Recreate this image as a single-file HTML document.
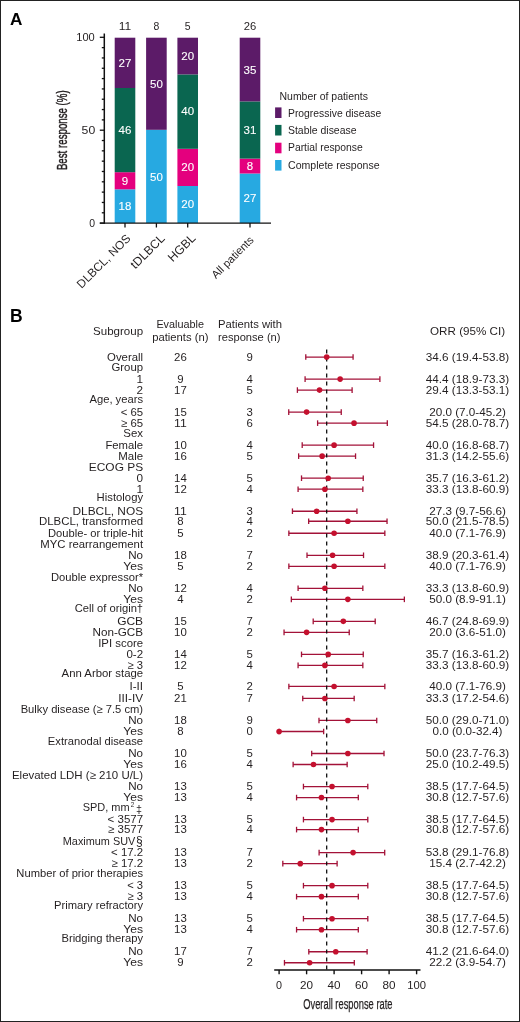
<!DOCTYPE html>
<html><head><meta charset="utf-8"><style>
html,body{margin:0;padding:0;background:#fff;}
body{width:520px;height:1022px;overflow:hidden;}
svg{display:block;font-family:"Liberation Sans", sans-serif;will-change:transform;}
</style></head><body>
<svg width="520" height="1022" viewBox="0 0 520 1022">
<rect x="0" y="0" width="520" height="1022" fill="#fff"/>
<text x="10.00" y="24.80" font-size="17.2" text-anchor="start" fill="#000" font-weight="bold" textLength="12.44" lengthAdjust="spacingAndGlyphs">A</text>
<rect x="114.70" y="189.30" width="20.6" height="33.70" fill="#27a9e1"/>
<rect x="114.70" y="172.20" width="20.6" height="17.10" fill="#e4007e"/>
<rect x="114.70" y="88.00" width="20.6" height="84.20" fill="#0a6650"/>
<rect x="114.70" y="37.70" width="20.6" height="50.30" fill="#5c1b68"/>
<rect x="146.10" y="129.80" width="20.6" height="93.20" fill="#27a9e1"/>
<rect x="146.10" y="37.70" width="20.6" height="92.10" fill="#5c1b68"/>
<rect x="177.40" y="186.00" width="20.6" height="37.00" fill="#27a9e1"/>
<rect x="177.40" y="148.80" width="20.6" height="37.20" fill="#e4007e"/>
<rect x="177.40" y="74.40" width="20.6" height="74.40" fill="#0a6650"/>
<rect x="177.40" y="37.70" width="20.6" height="36.70" fill="#5c1b68"/>
<rect x="239.70" y="173.50" width="20.6" height="49.50" fill="#27a9e1"/>
<rect x="239.70" y="158.60" width="20.6" height="14.90" fill="#e4007e"/>
<rect x="239.70" y="101.40" width="20.6" height="57.20" fill="#0a6650"/>
<rect x="239.70" y="37.70" width="20.6" height="63.70" fill="#5c1b68"/>
<line x1="104.3" y1="33.5" x2="104.3" y2="223.8" stroke="#111" stroke-width="1.5"/>
<line x1="99.8" y1="223.1" x2="271" y2="223.1" stroke="#111" stroke-width="1.4"/>
<line x1="99.8" y1="37.30" x2="104.3" y2="37.30" stroke="#111" stroke-width="1.3"/>
<line x1="101.8" y1="47.62" x2="104.3" y2="47.62" stroke="#111" stroke-width="1.3"/>
<line x1="101.8" y1="57.94" x2="104.3" y2="57.94" stroke="#111" stroke-width="1.3"/>
<line x1="101.8" y1="68.27" x2="104.3" y2="68.27" stroke="#111" stroke-width="1.3"/>
<line x1="101.8" y1="78.59" x2="104.3" y2="78.59" stroke="#111" stroke-width="1.3"/>
<line x1="101.8" y1="88.91" x2="104.3" y2="88.91" stroke="#111" stroke-width="1.3"/>
<line x1="101.8" y1="99.23" x2="104.3" y2="99.23" stroke="#111" stroke-width="1.3"/>
<line x1="101.8" y1="109.56" x2="104.3" y2="109.56" stroke="#111" stroke-width="1.3"/>
<line x1="101.8" y1="119.88" x2="104.3" y2="119.88" stroke="#111" stroke-width="1.3"/>
<line x1="99.8" y1="130.20" x2="104.3" y2="130.20" stroke="#111" stroke-width="1.3"/>
<line x1="101.8" y1="140.52" x2="104.3" y2="140.52" stroke="#111" stroke-width="1.3"/>
<line x1="101.8" y1="150.84" x2="104.3" y2="150.84" stroke="#111" stroke-width="1.3"/>
<line x1="101.8" y1="161.17" x2="104.3" y2="161.17" stroke="#111" stroke-width="1.3"/>
<line x1="101.8" y1="171.49" x2="104.3" y2="171.49" stroke="#111" stroke-width="1.3"/>
<line x1="101.8" y1="181.81" x2="104.3" y2="181.81" stroke="#111" stroke-width="1.3"/>
<line x1="101.8" y1="192.13" x2="104.3" y2="192.13" stroke="#111" stroke-width="1.3"/>
<line x1="101.8" y1="202.46" x2="104.3" y2="202.46" stroke="#111" stroke-width="1.3"/>
<line x1="101.8" y1="212.78" x2="104.3" y2="212.78" stroke="#111" stroke-width="1.3"/>
<line x1="99.8" y1="223.10" x2="104.3" y2="223.10" stroke="#111" stroke-width="1.3"/>
<line x1="125.0" y1="223.1" x2="125.0" y2="227.5" stroke="#111" stroke-width="1.3"/>
<line x1="156.4" y1="223.1" x2="156.4" y2="227.5" stroke="#111" stroke-width="1.3"/>
<line x1="187.7" y1="223.1" x2="187.7" y2="227.5" stroke="#111" stroke-width="1.3"/>
<line x1="250.0" y1="223.1" x2="250.0" y2="227.5" stroke="#111" stroke-width="1.3"/>
<text x="125.01" y="209.80" font-size="11.2" text-anchor="middle" fill="#fff" textLength="12.83" lengthAdjust="spacingAndGlyphs" stroke="#fff" stroke-width="0.1">18</text>
<text x="125.01" y="184.80" font-size="11.2" text-anchor="middle" fill="#fff" textLength="6.41" lengthAdjust="spacingAndGlyphs" stroke="#fff" stroke-width="0.1">9</text>
<text x="125.01" y="134.00" font-size="11.2" text-anchor="middle" fill="#fff" textLength="12.83" lengthAdjust="spacingAndGlyphs" stroke="#fff" stroke-width="0.1">46</text>
<text x="125.01" y="67.10" font-size="11.2" text-anchor="middle" fill="#fff" textLength="12.83" lengthAdjust="spacingAndGlyphs" stroke="#fff" stroke-width="0.1">27</text>
<text x="156.41" y="180.50" font-size="11.2" text-anchor="middle" fill="#fff" textLength="12.83" lengthAdjust="spacingAndGlyphs" stroke="#fff" stroke-width="0.1">50</text>
<text x="156.41" y="87.50" font-size="11.2" text-anchor="middle" fill="#fff" textLength="12.83" lengthAdjust="spacingAndGlyphs" stroke="#fff" stroke-width="0.1">50</text>
<text x="187.71" y="208.00" font-size="11.2" text-anchor="middle" fill="#fff" textLength="12.83" lengthAdjust="spacingAndGlyphs" stroke="#fff" stroke-width="0.1">20</text>
<text x="187.71" y="171.20" font-size="11.2" text-anchor="middle" fill="#fff" textLength="12.83" lengthAdjust="spacingAndGlyphs" stroke="#fff" stroke-width="0.1">20</text>
<text x="187.71" y="115.40" font-size="11.2" text-anchor="middle" fill="#fff" textLength="12.83" lengthAdjust="spacingAndGlyphs" stroke="#fff" stroke-width="0.1">40</text>
<text x="187.71" y="60.20" font-size="11.2" text-anchor="middle" fill="#fff" textLength="12.83" lengthAdjust="spacingAndGlyphs" stroke="#fff" stroke-width="0.1">20</text>
<text x="250.01" y="202.40" font-size="11.2" text-anchor="middle" fill="#fff" textLength="12.83" lengthAdjust="spacingAndGlyphs" stroke="#fff" stroke-width="0.1">27</text>
<text x="250.01" y="170.20" font-size="11.2" text-anchor="middle" fill="#fff" textLength="6.41" lengthAdjust="spacingAndGlyphs" stroke="#fff" stroke-width="0.1">8</text>
<text x="250.01" y="134.00" font-size="11.2" text-anchor="middle" fill="#fff" textLength="12.83" lengthAdjust="spacingAndGlyphs" stroke="#fff" stroke-width="0.1">31</text>
<text x="250.01" y="73.80" font-size="11.2" text-anchor="middle" fill="#fff" textLength="12.83" lengthAdjust="spacingAndGlyphs" stroke="#fff" stroke-width="0.1">35</text>
<text x="124.99" y="30.30" font-size="11" text-anchor="middle" fill="#231f20" textLength="12.48" lengthAdjust="spacingAndGlyphs">11</text>
<text x="156.41" y="30.30" font-size="11" text-anchor="middle" fill="#231f20" textLength="5.81" lengthAdjust="spacingAndGlyphs">8</text>
<text x="187.71" y="30.30" font-size="11" text-anchor="middle" fill="#231f20" textLength="5.81" lengthAdjust="spacingAndGlyphs">5</text>
<text x="250.01" y="30.30" font-size="11" text-anchor="middle" fill="#231f20" textLength="12.53" lengthAdjust="spacingAndGlyphs">26</text>
<text x="94.78" y="41.20" font-size="11" text-anchor="end" fill="#231f20" textLength="18.48" lengthAdjust="spacingAndGlyphs">100</text>
<text x="95.23" y="134.00" font-size="11" text-anchor="end" fill="#231f20" textLength="13.63" lengthAdjust="spacingAndGlyphs">50</text>
<text x="95.01" y="227.00" font-size="11" text-anchor="end" fill="#231f20" textLength="5.81" lengthAdjust="spacingAndGlyphs">0</text>
<g transform="translate(66.9,170.1) rotate(-90)">
<text x="0.00" y="0.00" font-size="14.8" text-anchor="start" fill="#231f20" textLength="79.81" lengthAdjust="spacingAndGlyphs" stroke="#231f20" stroke-width="0.45">Best response (%)</text>
</g>
<g transform="translate(131.2,239.3) rotate(-45)">
<text x="0.02" y="0.00" font-size="11.8" text-anchor="end" fill="#231f20">DLBCL, NOS</text>
</g>
<g transform="translate(165.5,239.3) rotate(-45)">
<text x="0.02" y="0.00" font-size="12.2" text-anchor="end" fill="#231f20">tDLBCL</text>
</g>
<g transform="translate(196.4,238.8) rotate(-45)">
<text x="-0.02" y="0.00" font-size="12.3" text-anchor="end" fill="#231f20">HGBL</text>
</g>
<g transform="translate(254.4,240.8) rotate(-45)">
<text x="0.02" y="0.00" font-size="11.1" text-anchor="end" fill="#231f20">All patients</text>
</g>
<text x="279.50" y="99.50" font-size="10.9" text-anchor="start" fill="#231f20" textLength="88.49" lengthAdjust="spacingAndGlyphs">Number of patients</text>
<rect x="275.1" y="107.4" width="6.4" height="10.6" fill="#5c1b68"/>
<text x="288.00" y="116.60" font-size="10.9" text-anchor="start" fill="#231f20" textLength="93.20" lengthAdjust="spacingAndGlyphs">Progressive disease</text>
<rect x="275.1" y="124.9" width="6.4" height="10.6" fill="#0a6650"/>
<text x="288.00" y="133.90" font-size="10.9" text-anchor="start" fill="#231f20" textLength="68.50" lengthAdjust="spacingAndGlyphs">Stable disease</text>
<rect x="275.1" y="142.7" width="6.4" height="10.6" fill="#e4007e"/>
<text x="288.00" y="151.20" font-size="10.9" text-anchor="start" fill="#231f20" textLength="74.81" lengthAdjust="spacingAndGlyphs">Partial response</text>
<rect x="275.1" y="160.0" width="6.4" height="10.6" fill="#27a9e1"/>
<text x="288.00" y="168.80" font-size="10.9" text-anchor="start" fill="#231f20" textLength="91.62" lengthAdjust="spacingAndGlyphs">Complete response</text>
<text x="10.00" y="322.30" font-size="17.5" text-anchor="start" fill="#000" font-weight="bold">B</text>
<text x="143.12" y="335.00" font-size="11.5" text-anchor="end" fill="#231f20" textLength="50.02" lengthAdjust="spacingAndGlyphs">Subgroup</text>
<text x="180.21" y="328.00" font-size="11.2" text-anchor="middle" fill="#231f20" textLength="47.62" lengthAdjust="spacingAndGlyphs">Evaluable</text>
<text x="180.29" y="341.00" font-size="11.2" text-anchor="middle" fill="#231f20" textLength="56.27" lengthAdjust="spacingAndGlyphs">patients (n)</text>
<text x="218.00" y="328.00" font-size="11.2" text-anchor="start" fill="#231f20" textLength="63.99" lengthAdjust="spacingAndGlyphs">Patients with</text>
<text x="218.00" y="341.00" font-size="11.2" text-anchor="start" fill="#231f20" textLength="62.49" lengthAdjust="spacingAndGlyphs">response (n)</text>
<text x="467.60" y="335.00" font-size="11.2" text-anchor="middle" fill="#231f20" textLength="75.10" lengthAdjust="spacingAndGlyphs">ORR (95% CI)</text>
<text x="143.07" y="361.00" font-size="11.2" text-anchor="end" fill="#231f20" textLength="35.95" lengthAdjust="spacingAndGlyphs">Overall</text>
<text x="180.41" y="361.00" font-size="11.2" text-anchor="middle" fill="#231f20" textLength="12.71" lengthAdjust="spacingAndGlyphs">26</text>
<text x="249.81" y="361.00" font-size="11.2" text-anchor="middle" fill="#231f20" textLength="6.35" lengthAdjust="spacingAndGlyphs">9</text>
<text x="467.51" y="361.00" font-size="11.2" text-anchor="middle" fill="#231f20" textLength="83.47" lengthAdjust="spacingAndGlyphs">34.6 (19.4-53.8)</text>
<text x="143.09" y="371.00" font-size="11.2" text-anchor="end" fill="#231f20" textLength="31.63" lengthAdjust="spacingAndGlyphs">Group</text>
<text x="143.11" y="383.00" font-size="11.2" text-anchor="end" fill="#231f20" textLength="6.54" lengthAdjust="spacingAndGlyphs">1</text>
<text x="180.41" y="383.00" font-size="11.2" text-anchor="middle" fill="#231f20" textLength="6.35" lengthAdjust="spacingAndGlyphs">9</text>
<text x="249.81" y="383.00" font-size="11.2" text-anchor="middle" fill="#231f20" textLength="6.35" lengthAdjust="spacingAndGlyphs">4</text>
<text x="467.51" y="383.00" font-size="11.2" text-anchor="middle" fill="#231f20" textLength="83.47" lengthAdjust="spacingAndGlyphs">44.4 (18.9-73.3)</text>
<text x="143.11" y="394.00" font-size="11.2" text-anchor="end" fill="#231f20" textLength="6.54" lengthAdjust="spacingAndGlyphs">2</text>
<text x="180.41" y="394.00" font-size="11.2" text-anchor="middle" fill="#231f20" textLength="12.71" lengthAdjust="spacingAndGlyphs">17</text>
<text x="249.81" y="394.00" font-size="11.2" text-anchor="middle" fill="#231f20" textLength="6.35" lengthAdjust="spacingAndGlyphs">5</text>
<text x="467.51" y="394.00" font-size="11.2" text-anchor="middle" fill="#231f20" textLength="83.47" lengthAdjust="spacingAndGlyphs">29.4 (13.3-53.1)</text>
<text x="143.10" y="403.00" font-size="11.2" text-anchor="end" fill="#231f20" textLength="53.68" lengthAdjust="spacingAndGlyphs">Age, years</text>
<text x="143.09" y="416.00" font-size="11.2" text-anchor="end" fill="#231f20" textLength="22.44" lengthAdjust="spacingAndGlyphs">&lt; 65</text>
<text x="180.41" y="416.00" font-size="11.2" text-anchor="middle" fill="#231f20" textLength="12.71" lengthAdjust="spacingAndGlyphs">15</text>
<text x="249.81" y="416.00" font-size="11.2" text-anchor="middle" fill="#231f20" textLength="6.35" lengthAdjust="spacingAndGlyphs">3</text>
<text x="467.50" y="416.00" font-size="11.2" text-anchor="middle" fill="#231f20" textLength="76.75" lengthAdjust="spacingAndGlyphs">20.0 (7.0-45.2)</text>
<text x="143.09" y="427.00" font-size="11.2" text-anchor="end" fill="#231f20" textLength="22.06" lengthAdjust="spacingAndGlyphs">≥ 65</text>
<text x="180.39" y="427.00" font-size="11.2" text-anchor="middle" fill="#231f20" textLength="12.71" lengthAdjust="spacingAndGlyphs">11</text>
<text x="249.81" y="427.00" font-size="11.2" text-anchor="middle" fill="#231f20" textLength="6.35" lengthAdjust="spacingAndGlyphs">6</text>
<text x="467.51" y="427.00" font-size="11.2" text-anchor="middle" fill="#231f20" textLength="83.47" lengthAdjust="spacingAndGlyphs">54.5 (28.0-78.7)</text>
<text x="143.08" y="437.00" font-size="11.2" text-anchor="end" fill="#231f20" textLength="19.76" lengthAdjust="spacingAndGlyphs">Sex</text>
<text x="143.10" y="449.00" font-size="11.2" text-anchor="end" fill="#231f20" textLength="37.67" lengthAdjust="spacingAndGlyphs">Female</text>
<text x="180.41" y="449.00" font-size="11.2" text-anchor="middle" fill="#231f20" textLength="12.71" lengthAdjust="spacingAndGlyphs">10</text>
<text x="249.81" y="449.00" font-size="11.2" text-anchor="middle" fill="#231f20" textLength="6.35" lengthAdjust="spacingAndGlyphs">4</text>
<text x="467.51" y="449.00" font-size="11.2" text-anchor="middle" fill="#231f20" textLength="83.47" lengthAdjust="spacingAndGlyphs">40.0 (16.8-68.7)</text>
<text x="143.07" y="460.00" font-size="11.2" text-anchor="end" fill="#231f20" textLength="24.85" lengthAdjust="spacingAndGlyphs">Male</text>
<text x="180.41" y="460.00" font-size="11.2" text-anchor="middle" fill="#231f20" textLength="12.71" lengthAdjust="spacingAndGlyphs">16</text>
<text x="249.81" y="460.00" font-size="11.2" text-anchor="middle" fill="#231f20" textLength="6.35" lengthAdjust="spacingAndGlyphs">5</text>
<text x="467.51" y="460.00" font-size="11.2" text-anchor="middle" fill="#231f20" textLength="83.47" lengthAdjust="spacingAndGlyphs">31.3 (14.2-55.6)</text>
<text x="143.12" y="471.00" font-size="11.2" text-anchor="end" fill="#231f20" textLength="54.30" lengthAdjust="spacingAndGlyphs">ECOG PS</text>
<text x="143.11" y="482.00" font-size="11.2" text-anchor="end" fill="#231f20" textLength="6.54" lengthAdjust="spacingAndGlyphs">0</text>
<text x="180.41" y="482.00" font-size="11.2" text-anchor="middle" fill="#231f20" textLength="12.71" lengthAdjust="spacingAndGlyphs">14</text>
<text x="249.81" y="482.00" font-size="11.2" text-anchor="middle" fill="#231f20" textLength="6.35" lengthAdjust="spacingAndGlyphs">5</text>
<text x="467.51" y="482.00" font-size="11.2" text-anchor="middle" fill="#231f20" textLength="83.47" lengthAdjust="spacingAndGlyphs">35.7 (16.3-61.2)</text>
<text x="143.11" y="493.00" font-size="11.2" text-anchor="end" fill="#231f20" textLength="6.54" lengthAdjust="spacingAndGlyphs">1</text>
<text x="180.41" y="493.00" font-size="11.2" text-anchor="middle" fill="#231f20" textLength="12.71" lengthAdjust="spacingAndGlyphs">12</text>
<text x="249.81" y="493.00" font-size="11.2" text-anchor="middle" fill="#231f20" textLength="6.35" lengthAdjust="spacingAndGlyphs">4</text>
<text x="467.51" y="493.00" font-size="11.2" text-anchor="middle" fill="#231f20" textLength="83.47" lengthAdjust="spacingAndGlyphs">33.3 (13.8-60.9)</text>
<text x="143.08" y="501.00" font-size="11.2" text-anchor="end" fill="#231f20" textLength="46.44" lengthAdjust="spacingAndGlyphs">Histology</text>
<text x="143.12" y="515.00" font-size="11.2" text-anchor="end" fill="#231f20" textLength="70.64" lengthAdjust="spacingAndGlyphs">DLBCL, NOS</text>
<text x="180.39" y="515.00" font-size="11.2" text-anchor="middle" fill="#231f20" textLength="12.71" lengthAdjust="spacingAndGlyphs">11</text>
<text x="249.81" y="515.00" font-size="11.2" text-anchor="middle" fill="#231f20" textLength="6.35" lengthAdjust="spacingAndGlyphs">3</text>
<text x="467.50" y="515.00" font-size="11.2" text-anchor="middle" fill="#231f20" textLength="76.75" lengthAdjust="spacingAndGlyphs">27.3 (9.7-56.6)</text>
<text x="143.10" y="525.00" font-size="11.2" text-anchor="end" fill="#231f20" textLength="104.13" lengthAdjust="spacingAndGlyphs">DLBCL, transformed</text>
<text x="180.41" y="525.00" font-size="11.2" text-anchor="middle" fill="#231f20" textLength="6.35" lengthAdjust="spacingAndGlyphs">8</text>
<text x="249.81" y="525.00" font-size="11.2" text-anchor="middle" fill="#231f20" textLength="6.35" lengthAdjust="spacingAndGlyphs">4</text>
<text x="467.51" y="525.00" font-size="11.2" text-anchor="middle" fill="#231f20" textLength="83.47" lengthAdjust="spacingAndGlyphs">50.0 (21.5-78.5)</text>
<text x="143.09" y="537.00" font-size="11.2" text-anchor="end" fill="#231f20" textLength="95.03" lengthAdjust="spacingAndGlyphs">Double- or triple-hit</text>
<text x="180.41" y="537.00" font-size="11.2" text-anchor="middle" fill="#231f20" textLength="6.35" lengthAdjust="spacingAndGlyphs">5</text>
<text x="249.81" y="537.00" font-size="11.2" text-anchor="middle" fill="#231f20" textLength="6.35" lengthAdjust="spacingAndGlyphs">2</text>
<text x="467.50" y="537.00" font-size="11.2" text-anchor="middle" fill="#231f20" textLength="76.75" lengthAdjust="spacingAndGlyphs">40.0 (7.1-76.9)</text>
<text x="143.09" y="548.00" font-size="11.2" text-anchor="end" fill="#231f20" textLength="102.75" lengthAdjust="spacingAndGlyphs">MYC rearrangement</text>
<text x="143.08" y="559.00" font-size="11.2" text-anchor="end" fill="#231f20" textLength="14.85" lengthAdjust="spacingAndGlyphs">No</text>
<text x="180.41" y="559.00" font-size="11.2" text-anchor="middle" fill="#231f20" textLength="12.71" lengthAdjust="spacingAndGlyphs">18</text>
<text x="249.81" y="559.00" font-size="11.2" text-anchor="middle" fill="#231f20" textLength="6.35" lengthAdjust="spacingAndGlyphs">7</text>
<text x="467.51" y="559.00" font-size="11.2" text-anchor="middle" fill="#231f20" textLength="83.47" lengthAdjust="spacingAndGlyphs">38.9 (20.3-61.4)</text>
<text x="143.12" y="570.00" font-size="11.2" text-anchor="end" fill="#231f20" textLength="19.76" lengthAdjust="spacingAndGlyphs">Yes</text>
<text x="180.41" y="570.00" font-size="11.2" text-anchor="middle" fill="#231f20" textLength="6.35" lengthAdjust="spacingAndGlyphs">5</text>
<text x="249.81" y="570.00" font-size="11.2" text-anchor="middle" fill="#231f20" textLength="6.35" lengthAdjust="spacingAndGlyphs">2</text>
<text x="467.50" y="570.00" font-size="11.2" text-anchor="middle" fill="#231f20" textLength="76.75" lengthAdjust="spacingAndGlyphs">40.0 (7.1-76.9)</text>
<text x="143.12" y="581.00" font-size="11.2" text-anchor="end" fill="#231f20" textLength="92.10" lengthAdjust="spacingAndGlyphs">Double expressor*</text>
<text x="143.08" y="592.00" font-size="11.2" text-anchor="end" fill="#231f20" textLength="14.85" lengthAdjust="spacingAndGlyphs">No</text>
<text x="180.41" y="592.00" font-size="11.2" text-anchor="middle" fill="#231f20" textLength="12.71" lengthAdjust="spacingAndGlyphs">12</text>
<text x="249.81" y="592.00" font-size="11.2" text-anchor="middle" fill="#231f20" textLength="6.35" lengthAdjust="spacingAndGlyphs">4</text>
<text x="467.51" y="592.00" font-size="11.2" text-anchor="middle" fill="#231f20" textLength="83.47" lengthAdjust="spacingAndGlyphs">33.3 (13.8-60.9)</text>
<text x="143.12" y="603.00" font-size="11.2" text-anchor="end" fill="#231f20" textLength="19.76" lengthAdjust="spacingAndGlyphs">Yes</text>
<text x="180.41" y="603.00" font-size="11.2" text-anchor="middle" fill="#231f20" textLength="6.35" lengthAdjust="spacingAndGlyphs">4</text>
<text x="249.81" y="603.00" font-size="11.2" text-anchor="middle" fill="#231f20" textLength="6.35" lengthAdjust="spacingAndGlyphs">2</text>
<text x="467.50" y="603.00" font-size="11.2" text-anchor="middle" fill="#231f20" textLength="76.75" lengthAdjust="spacingAndGlyphs">50.0 (8.9-91.1)</text>
<text x="143.09" y="612.00" font-size="11.2" text-anchor="end" fill="#231f20" textLength="68.43" lengthAdjust="spacingAndGlyphs">Cell of origin†</text>
<text x="143.12" y="625.00" font-size="11.2" text-anchor="end" fill="#231f20" textLength="25.97" lengthAdjust="spacingAndGlyphs">GCB</text>
<text x="180.41" y="625.00" font-size="11.2" text-anchor="middle" fill="#231f20" textLength="12.71" lengthAdjust="spacingAndGlyphs">15</text>
<text x="249.81" y="625.00" font-size="11.2" text-anchor="middle" fill="#231f20" textLength="6.35" lengthAdjust="spacingAndGlyphs">7</text>
<text x="467.51" y="625.00" font-size="11.2" text-anchor="middle" fill="#231f20" textLength="83.47" lengthAdjust="spacingAndGlyphs">46.7 (24.8-69.9)</text>
<text x="143.10" y="636.00" font-size="11.2" text-anchor="end" fill="#231f20" textLength="50.64" lengthAdjust="spacingAndGlyphs">Non-GCB</text>
<text x="180.41" y="636.00" font-size="11.2" text-anchor="middle" fill="#231f20" textLength="12.71" lengthAdjust="spacingAndGlyphs">10</text>
<text x="249.81" y="636.00" font-size="11.2" text-anchor="middle" fill="#231f20" textLength="6.35" lengthAdjust="spacingAndGlyphs">2</text>
<text x="467.50" y="636.00" font-size="11.2" text-anchor="middle" fill="#231f20" textLength="76.75" lengthAdjust="spacingAndGlyphs">20.0 (3.6-51.0)</text>
<text x="143.11" y="647.00" font-size="11.2" text-anchor="end" fill="#231f20" textLength="44.92" lengthAdjust="spacingAndGlyphs">IPI score</text>
<text x="143.10" y="658.00" font-size="11.2" text-anchor="end" fill="#231f20" textLength="16.70" lengthAdjust="spacingAndGlyphs">0-2</text>
<text x="180.41" y="658.00" font-size="11.2" text-anchor="middle" fill="#231f20" textLength="12.71" lengthAdjust="spacingAndGlyphs">14</text>
<text x="249.81" y="658.00" font-size="11.2" text-anchor="middle" fill="#231f20" textLength="6.35" lengthAdjust="spacingAndGlyphs">5</text>
<text x="467.51" y="658.00" font-size="11.2" text-anchor="middle" fill="#231f20" textLength="83.47" lengthAdjust="spacingAndGlyphs">35.7 (16.3-61.2)</text>
<text x="143.08" y="669.00" font-size="11.2" text-anchor="end" fill="#231f20" textLength="15.52" lengthAdjust="spacingAndGlyphs">≥ 3</text>
<text x="180.41" y="669.00" font-size="11.2" text-anchor="middle" fill="#231f20" textLength="12.71" lengthAdjust="spacingAndGlyphs">12</text>
<text x="249.81" y="669.00" font-size="11.2" text-anchor="middle" fill="#231f20" textLength="6.35" lengthAdjust="spacingAndGlyphs">4</text>
<text x="467.51" y="669.00" font-size="11.2" text-anchor="middle" fill="#231f20" textLength="83.47" lengthAdjust="spacingAndGlyphs">33.3 (13.8-60.9)</text>
<text x="143.12" y="677.00" font-size="11.2" text-anchor="end" fill="#231f20" textLength="81.50" lengthAdjust="spacingAndGlyphs">Ann Arbor stage</text>
<text x="143.12" y="690.00" font-size="11.2" text-anchor="end" fill="#231f20" textLength="13.61" lengthAdjust="spacingAndGlyphs">I-II</text>
<text x="180.41" y="690.00" font-size="11.2" text-anchor="middle" fill="#231f20" textLength="6.35" lengthAdjust="spacingAndGlyphs">5</text>
<text x="249.81" y="690.00" font-size="11.2" text-anchor="middle" fill="#231f20" textLength="6.35" lengthAdjust="spacingAndGlyphs">2</text>
<text x="467.50" y="690.00" font-size="11.2" text-anchor="middle" fill="#231f20" textLength="76.75" lengthAdjust="spacingAndGlyphs">40.0 (7.1-76.9)</text>
<text x="143.12" y="702.00" font-size="11.2" text-anchor="end" fill="#231f20" textLength="24.93" lengthAdjust="spacingAndGlyphs">III-IV</text>
<text x="180.41" y="702.00" font-size="11.2" text-anchor="middle" fill="#231f20" textLength="12.71" lengthAdjust="spacingAndGlyphs">21</text>
<text x="249.81" y="702.00" font-size="11.2" text-anchor="middle" fill="#231f20" textLength="6.35" lengthAdjust="spacingAndGlyphs">7</text>
<text x="467.51" y="702.00" font-size="11.2" text-anchor="middle" fill="#231f20" textLength="83.47" lengthAdjust="spacingAndGlyphs">33.3 (17.2-54.6)</text>
<text x="143.12" y="713.00" font-size="11.2" text-anchor="end" fill="#231f20" textLength="122.45" lengthAdjust="spacingAndGlyphs">Bulky disease (≥ 7.5 cm)</text>
<text x="143.08" y="724.00" font-size="11.2" text-anchor="end" fill="#231f20" textLength="14.85" lengthAdjust="spacingAndGlyphs">No</text>
<text x="180.41" y="724.00" font-size="11.2" text-anchor="middle" fill="#231f20" textLength="12.71" lengthAdjust="spacingAndGlyphs">18</text>
<text x="249.81" y="724.00" font-size="11.2" text-anchor="middle" fill="#231f20" textLength="6.35" lengthAdjust="spacingAndGlyphs">9</text>
<text x="467.51" y="724.00" font-size="11.2" text-anchor="middle" fill="#231f20" textLength="83.47" lengthAdjust="spacingAndGlyphs">50.0 (29.0-71.0)</text>
<text x="143.12" y="735.00" font-size="11.2" text-anchor="end" fill="#231f20" textLength="19.76" lengthAdjust="spacingAndGlyphs">Yes</text>
<text x="180.41" y="735.00" font-size="11.2" text-anchor="middle" fill="#231f20" textLength="6.35" lengthAdjust="spacingAndGlyphs">8</text>
<text x="249.81" y="735.00" font-size="11.2" text-anchor="middle" fill="#231f20" textLength="6.35" lengthAdjust="spacingAndGlyphs">0</text>
<text x="467.49" y="735.00" font-size="11.2" text-anchor="middle" fill="#231f20" textLength="70.02" lengthAdjust="spacingAndGlyphs">0.0 (0.0-32.4)</text>
<text x="143.11" y="745.00" font-size="11.2" text-anchor="end" fill="#231f20" textLength="95.27" lengthAdjust="spacingAndGlyphs">Extranodal disease</text>
<text x="143.08" y="757.00" font-size="11.2" text-anchor="end" fill="#231f20" textLength="14.85" lengthAdjust="spacingAndGlyphs">No</text>
<text x="180.41" y="757.00" font-size="11.2" text-anchor="middle" fill="#231f20" textLength="12.71" lengthAdjust="spacingAndGlyphs">10</text>
<text x="249.81" y="757.00" font-size="11.2" text-anchor="middle" fill="#231f20" textLength="6.35" lengthAdjust="spacingAndGlyphs">5</text>
<text x="467.51" y="757.00" font-size="11.2" text-anchor="middle" fill="#231f20" textLength="83.47" lengthAdjust="spacingAndGlyphs">50.0 (23.7-76.3)</text>
<text x="143.12" y="768.00" font-size="11.2" text-anchor="end" fill="#231f20" textLength="19.76" lengthAdjust="spacingAndGlyphs">Yes</text>
<text x="180.41" y="768.00" font-size="11.2" text-anchor="middle" fill="#231f20" textLength="12.71" lengthAdjust="spacingAndGlyphs">16</text>
<text x="249.81" y="768.00" font-size="11.2" text-anchor="middle" fill="#231f20" textLength="6.35" lengthAdjust="spacingAndGlyphs">4</text>
<text x="467.51" y="768.00" font-size="11.2" text-anchor="middle" fill="#231f20" textLength="83.47" lengthAdjust="spacingAndGlyphs">25.0 (10.2-49.5)</text>
<text x="143.08" y="779.00" font-size="11.2" text-anchor="end" fill="#231f20" textLength="131.13" lengthAdjust="spacingAndGlyphs">Elevated LDH (≥ 210 U/L)</text>
<text x="143.08" y="790.00" font-size="11.2" text-anchor="end" fill="#231f20" textLength="14.85" lengthAdjust="spacingAndGlyphs">No</text>
<text x="180.41" y="790.00" font-size="11.2" text-anchor="middle" fill="#231f20" textLength="12.71" lengthAdjust="spacingAndGlyphs">13</text>
<text x="249.81" y="790.00" font-size="11.2" text-anchor="middle" fill="#231f20" textLength="6.35" lengthAdjust="spacingAndGlyphs">5</text>
<text x="467.51" y="790.00" font-size="11.2" text-anchor="middle" fill="#231f20" textLength="83.47" lengthAdjust="spacingAndGlyphs">38.5 (17.7-64.5)</text>
<text x="143.12" y="801.00" font-size="11.2" text-anchor="end" fill="#231f20" textLength="19.76" lengthAdjust="spacingAndGlyphs">Yes</text>
<text x="180.41" y="801.00" font-size="11.2" text-anchor="middle" fill="#231f20" textLength="12.71" lengthAdjust="spacingAndGlyphs">13</text>
<text x="249.81" y="801.00" font-size="11.2" text-anchor="middle" fill="#231f20" textLength="6.35" lengthAdjust="spacingAndGlyphs">4</text>
<text x="467.51" y="801.00" font-size="11.2" text-anchor="middle" fill="#231f20" textLength="83.47" lengthAdjust="spacingAndGlyphs">30.8 (12.7-57.6)</text>
<text x="129.58" y="811.00" font-size="11.2" text-anchor="end" fill="#231f20" textLength="46.88" lengthAdjust="spacingAndGlyphs">SPD, mm</text>
<text x="134.21" y="807.40" font-size="6.7" text-anchor="end" fill="#231f20" textLength="3.51" lengthAdjust="spacingAndGlyphs">2</text>
<text x="142.01" y="812.80" font-size="11.5" text-anchor="end" fill="#231f20" textLength="6.01" lengthAdjust="spacingAndGlyphs">‡</text>
<text x="143.12" y="823.00" font-size="11.2" text-anchor="end" fill="#231f20" textLength="35.53" lengthAdjust="spacingAndGlyphs">&lt; 3577</text>
<text x="180.41" y="823.00" font-size="11.2" text-anchor="middle" fill="#231f20" textLength="12.71" lengthAdjust="spacingAndGlyphs">13</text>
<text x="249.81" y="823.00" font-size="11.2" text-anchor="middle" fill="#231f20" textLength="6.35" lengthAdjust="spacingAndGlyphs">5</text>
<text x="467.51" y="823.00" font-size="11.2" text-anchor="middle" fill="#231f20" textLength="83.47" lengthAdjust="spacingAndGlyphs">38.5 (17.7-64.5)</text>
<text x="143.12" y="833.00" font-size="11.2" text-anchor="end" fill="#231f20" textLength="35.14" lengthAdjust="spacingAndGlyphs">≥ 3577</text>
<text x="180.41" y="833.00" font-size="11.2" text-anchor="middle" fill="#231f20" textLength="12.71" lengthAdjust="spacingAndGlyphs">13</text>
<text x="249.81" y="833.00" font-size="11.2" text-anchor="middle" fill="#231f20" textLength="6.35" lengthAdjust="spacingAndGlyphs">4</text>
<text x="467.51" y="833.00" font-size="11.2" text-anchor="middle" fill="#231f20" textLength="83.47" lengthAdjust="spacingAndGlyphs">30.8 (12.7-57.6)</text>
<text x="135.28" y="845.00" font-size="11.2" text-anchor="end" fill="#231f20" textLength="72.48" lengthAdjust="spacingAndGlyphs">Maximum SUV</text>
<text x="142.61" y="845.10" font-size="13" text-anchor="end" fill="#231f20" textLength="6.71" lengthAdjust="spacingAndGlyphs">§</text>
<text x="143.08" y="856.00" font-size="11.2" text-anchor="end" fill="#231f20" textLength="32.00" lengthAdjust="spacingAndGlyphs">&lt; 17.2</text>
<text x="180.41" y="856.00" font-size="11.2" text-anchor="middle" fill="#231f20" textLength="12.71" lengthAdjust="spacingAndGlyphs">13</text>
<text x="249.81" y="856.00" font-size="11.2" text-anchor="middle" fill="#231f20" textLength="6.35" lengthAdjust="spacingAndGlyphs">7</text>
<text x="467.51" y="856.00" font-size="11.2" text-anchor="middle" fill="#231f20" textLength="83.47" lengthAdjust="spacingAndGlyphs">53.8 (29.1-76.8)</text>
<text x="143.08" y="867.00" font-size="11.2" text-anchor="end" fill="#231f20" textLength="31.62" lengthAdjust="spacingAndGlyphs">≥ 17.2</text>
<text x="180.41" y="867.00" font-size="11.2" text-anchor="middle" fill="#231f20" textLength="12.71" lengthAdjust="spacingAndGlyphs">13</text>
<text x="249.81" y="867.00" font-size="11.2" text-anchor="middle" fill="#231f20" textLength="6.35" lengthAdjust="spacingAndGlyphs">2</text>
<text x="467.50" y="867.00" font-size="11.2" text-anchor="middle" fill="#231f20" textLength="76.75" lengthAdjust="spacingAndGlyphs">15.4 (2.7-42.2)</text>
<text x="143.09" y="877.00" font-size="11.2" text-anchor="end" fill="#231f20" textLength="126.73" lengthAdjust="spacingAndGlyphs">Number of prior therapies</text>
<text x="143.08" y="889.00" font-size="11.2" text-anchor="end" fill="#231f20" textLength="15.90" lengthAdjust="spacingAndGlyphs">&lt; 3</text>
<text x="180.41" y="889.00" font-size="11.2" text-anchor="middle" fill="#231f20" textLength="12.71" lengthAdjust="spacingAndGlyphs">13</text>
<text x="249.81" y="889.00" font-size="11.2" text-anchor="middle" fill="#231f20" textLength="6.35" lengthAdjust="spacingAndGlyphs">5</text>
<text x="467.51" y="889.00" font-size="11.2" text-anchor="middle" fill="#231f20" textLength="83.47" lengthAdjust="spacingAndGlyphs">38.5 (17.7-64.5)</text>
<text x="143.08" y="900.00" font-size="11.2" text-anchor="end" fill="#231f20" textLength="15.52" lengthAdjust="spacingAndGlyphs">≥ 3</text>
<text x="180.41" y="900.00" font-size="11.2" text-anchor="middle" fill="#231f20" textLength="12.71" lengthAdjust="spacingAndGlyphs">13</text>
<text x="249.81" y="900.00" font-size="11.2" text-anchor="middle" fill="#231f20" textLength="6.35" lengthAdjust="spacingAndGlyphs">4</text>
<text x="467.51" y="900.00" font-size="11.2" text-anchor="middle" fill="#231f20" textLength="83.47" lengthAdjust="spacingAndGlyphs">30.8 (12.7-57.6)</text>
<text x="143.11" y="909.00" font-size="11.2" text-anchor="end" fill="#231f20" textLength="89.03" lengthAdjust="spacingAndGlyphs">Primary refractory</text>
<text x="143.08" y="922.00" font-size="11.2" text-anchor="end" fill="#231f20" textLength="14.85" lengthAdjust="spacingAndGlyphs">No</text>
<text x="180.41" y="922.00" font-size="11.2" text-anchor="middle" fill="#231f20" textLength="12.71" lengthAdjust="spacingAndGlyphs">13</text>
<text x="249.81" y="922.00" font-size="11.2" text-anchor="middle" fill="#231f20" textLength="6.35" lengthAdjust="spacingAndGlyphs">5</text>
<text x="467.51" y="922.00" font-size="11.2" text-anchor="middle" fill="#231f20" textLength="83.47" lengthAdjust="spacingAndGlyphs">38.5 (17.7-64.5)</text>
<text x="143.12" y="933.00" font-size="11.2" text-anchor="end" fill="#231f20" textLength="19.76" lengthAdjust="spacingAndGlyphs">Yes</text>
<text x="180.41" y="933.00" font-size="11.2" text-anchor="middle" fill="#231f20" textLength="12.71" lengthAdjust="spacingAndGlyphs">13</text>
<text x="249.81" y="933.00" font-size="11.2" text-anchor="middle" fill="#231f20" textLength="6.35" lengthAdjust="spacingAndGlyphs">4</text>
<text x="467.51" y="933.00" font-size="11.2" text-anchor="middle" fill="#231f20" textLength="83.47" lengthAdjust="spacingAndGlyphs">30.8 (12.7-57.6)</text>
<text x="143.07" y="942.00" font-size="11.2" text-anchor="end" fill="#231f20" textLength="81.64" lengthAdjust="spacingAndGlyphs">Bridging therapy</text>
<text x="143.08" y="955.00" font-size="11.2" text-anchor="end" fill="#231f20" textLength="14.85" lengthAdjust="spacingAndGlyphs">No</text>
<text x="180.41" y="955.00" font-size="11.2" text-anchor="middle" fill="#231f20" textLength="12.71" lengthAdjust="spacingAndGlyphs">17</text>
<text x="249.81" y="955.00" font-size="11.2" text-anchor="middle" fill="#231f20" textLength="6.35" lengthAdjust="spacingAndGlyphs">7</text>
<text x="467.51" y="955.00" font-size="11.2" text-anchor="middle" fill="#231f20" textLength="83.47" lengthAdjust="spacingAndGlyphs">41.2 (21.6-64.0)</text>
<text x="143.12" y="966.00" font-size="11.2" text-anchor="end" fill="#231f20" textLength="19.76" lengthAdjust="spacingAndGlyphs">Yes</text>
<text x="180.41" y="966.00" font-size="11.2" text-anchor="middle" fill="#231f20" textLength="6.35" lengthAdjust="spacingAndGlyphs">9</text>
<text x="249.81" y="966.00" font-size="11.2" text-anchor="middle" fill="#231f20" textLength="6.35" lengthAdjust="spacingAndGlyphs">2</text>
<text x="467.50" y="966.00" font-size="11.2" text-anchor="middle" fill="#231f20" textLength="76.75" lengthAdjust="spacingAndGlyphs">22.2 (3.9-54.7)</text>
<line x1="305.78" y1="357.05" x2="353.08" y2="357.05" stroke="#a31238" stroke-width="1.3"/>
<line x1="305.78" y1="354.25" x2="305.78" y2="359.85" stroke="#a31238" stroke-width="1.3"/>
<line x1="353.08" y1="354.25" x2="353.08" y2="359.85" stroke="#a31238" stroke-width="1.3"/>
<line x1="305.09" y1="379.08" x2="379.89" y2="379.08" stroke="#a31238" stroke-width="1.3"/>
<line x1="305.09" y1="376.28" x2="305.09" y2="381.88" stroke="#a31238" stroke-width="1.3"/>
<line x1="379.89" y1="376.28" x2="379.89" y2="381.88" stroke="#a31238" stroke-width="1.3"/>
<line x1="297.39" y1="390.09" x2="352.11" y2="390.09" stroke="#a31238" stroke-width="1.3"/>
<line x1="297.39" y1="387.29" x2="297.39" y2="392.89" stroke="#a31238" stroke-width="1.3"/>
<line x1="352.11" y1="387.29" x2="352.11" y2="392.89" stroke="#a31238" stroke-width="1.3"/>
<line x1="288.73" y1="412.11" x2="341.25" y2="412.11" stroke="#a31238" stroke-width="1.3"/>
<line x1="288.73" y1="409.31" x2="288.73" y2="414.91" stroke="#a31238" stroke-width="1.3"/>
<line x1="341.25" y1="409.31" x2="341.25" y2="414.91" stroke="#a31238" stroke-width="1.3"/>
<line x1="317.60" y1="423.13" x2="387.31" y2="423.13" stroke="#a31238" stroke-width="1.3"/>
<line x1="317.60" y1="420.33" x2="317.60" y2="425.93" stroke="#a31238" stroke-width="1.3"/>
<line x1="387.31" y1="420.33" x2="387.31" y2="425.93" stroke="#a31238" stroke-width="1.3"/>
<line x1="302.20" y1="445.15" x2="373.56" y2="445.15" stroke="#a31238" stroke-width="1.3"/>
<line x1="302.20" y1="442.35" x2="302.20" y2="447.95" stroke="#a31238" stroke-width="1.3"/>
<line x1="373.56" y1="442.35" x2="373.56" y2="447.95" stroke="#a31238" stroke-width="1.3"/>
<line x1="298.62" y1="456.16" x2="355.55" y2="456.16" stroke="#a31238" stroke-width="1.3"/>
<line x1="298.62" y1="453.36" x2="298.62" y2="458.96" stroke="#a31238" stroke-width="1.3"/>
<line x1="355.55" y1="453.36" x2="355.55" y2="458.96" stroke="#a31238" stroke-width="1.3"/>
<line x1="301.51" y1="478.19" x2="363.25" y2="478.19" stroke="#a31238" stroke-width="1.3"/>
<line x1="301.51" y1="475.39" x2="301.51" y2="480.99" stroke="#a31238" stroke-width="1.3"/>
<line x1="363.25" y1="475.39" x2="363.25" y2="480.99" stroke="#a31238" stroke-width="1.3"/>
<line x1="298.08" y1="489.20" x2="362.84" y2="489.20" stroke="#a31238" stroke-width="1.3"/>
<line x1="298.08" y1="486.40" x2="298.08" y2="492.00" stroke="#a31238" stroke-width="1.3"/>
<line x1="362.84" y1="486.40" x2="362.84" y2="492.00" stroke="#a31238" stroke-width="1.3"/>
<line x1="292.44" y1="511.23" x2="356.93" y2="511.23" stroke="#a31238" stroke-width="1.3"/>
<line x1="292.44" y1="508.43" x2="292.44" y2="514.03" stroke="#a31238" stroke-width="1.3"/>
<line x1="356.93" y1="508.43" x2="356.93" y2="514.03" stroke="#a31238" stroke-width="1.3"/>
<line x1="308.66" y1="521.24" x2="387.04" y2="521.24" stroke="#a31238" stroke-width="1.3"/>
<line x1="308.66" y1="518.44" x2="308.66" y2="524.04" stroke="#a31238" stroke-width="1.3"/>
<line x1="387.04" y1="518.44" x2="387.04" y2="524.04" stroke="#a31238" stroke-width="1.3"/>
<line x1="288.86" y1="533.25" x2="384.84" y2="533.25" stroke="#a31238" stroke-width="1.3"/>
<line x1="288.86" y1="530.45" x2="288.86" y2="536.05" stroke="#a31238" stroke-width="1.3"/>
<line x1="384.84" y1="530.45" x2="384.84" y2="536.05" stroke="#a31238" stroke-width="1.3"/>
<line x1="307.01" y1="555.28" x2="363.53" y2="555.28" stroke="#a31238" stroke-width="1.3"/>
<line x1="307.01" y1="552.48" x2="307.01" y2="558.08" stroke="#a31238" stroke-width="1.3"/>
<line x1="363.53" y1="552.48" x2="363.53" y2="558.08" stroke="#a31238" stroke-width="1.3"/>
<line x1="288.86" y1="566.29" x2="384.84" y2="566.29" stroke="#a31238" stroke-width="1.3"/>
<line x1="288.86" y1="563.49" x2="288.86" y2="569.09" stroke="#a31238" stroke-width="1.3"/>
<line x1="384.84" y1="563.49" x2="384.84" y2="569.09" stroke="#a31238" stroke-width="1.3"/>
<line x1="298.08" y1="588.32" x2="362.84" y2="588.32" stroke="#a31238" stroke-width="1.3"/>
<line x1="298.08" y1="585.52" x2="298.08" y2="591.12" stroke="#a31238" stroke-width="1.3"/>
<line x1="362.84" y1="585.52" x2="362.84" y2="591.12" stroke="#a31238" stroke-width="1.3"/>
<line x1="291.34" y1="599.33" x2="404.36" y2="599.33" stroke="#a31238" stroke-width="1.3"/>
<line x1="291.34" y1="596.53" x2="291.34" y2="602.13" stroke="#a31238" stroke-width="1.3"/>
<line x1="404.36" y1="596.53" x2="404.36" y2="602.13" stroke="#a31238" stroke-width="1.3"/>
<line x1="313.20" y1="621.36" x2="375.21" y2="621.36" stroke="#a31238" stroke-width="1.3"/>
<line x1="313.20" y1="618.56" x2="313.20" y2="624.16" stroke="#a31238" stroke-width="1.3"/>
<line x1="375.21" y1="618.56" x2="375.21" y2="624.16" stroke="#a31238" stroke-width="1.3"/>
<line x1="284.05" y1="632.37" x2="349.23" y2="632.37" stroke="#a31238" stroke-width="1.3"/>
<line x1="284.05" y1="629.57" x2="284.05" y2="635.17" stroke="#a31238" stroke-width="1.3"/>
<line x1="349.23" y1="629.57" x2="349.23" y2="635.17" stroke="#a31238" stroke-width="1.3"/>
<line x1="301.51" y1="654.39" x2="363.25" y2="654.39" stroke="#a31238" stroke-width="1.3"/>
<line x1="301.51" y1="651.59" x2="301.51" y2="657.19" stroke="#a31238" stroke-width="1.3"/>
<line x1="363.25" y1="651.59" x2="363.25" y2="657.19" stroke="#a31238" stroke-width="1.3"/>
<line x1="298.08" y1="665.41" x2="362.84" y2="665.41" stroke="#a31238" stroke-width="1.3"/>
<line x1="298.08" y1="662.61" x2="298.08" y2="668.21" stroke="#a31238" stroke-width="1.3"/>
<line x1="362.84" y1="662.61" x2="362.84" y2="668.21" stroke="#a31238" stroke-width="1.3"/>
<line x1="288.86" y1="686.43" x2="384.84" y2="686.43" stroke="#a31238" stroke-width="1.3"/>
<line x1="288.86" y1="683.63" x2="288.86" y2="689.23" stroke="#a31238" stroke-width="1.3"/>
<line x1="384.84" y1="683.63" x2="384.84" y2="689.23" stroke="#a31238" stroke-width="1.3"/>
<line x1="302.75" y1="698.44" x2="354.18" y2="698.44" stroke="#a31238" stroke-width="1.3"/>
<line x1="302.75" y1="695.64" x2="302.75" y2="701.24" stroke="#a31238" stroke-width="1.3"/>
<line x1="354.18" y1="695.64" x2="354.18" y2="701.24" stroke="#a31238" stroke-width="1.3"/>
<line x1="318.98" y1="720.47" x2="376.73" y2="720.47" stroke="#a31238" stroke-width="1.3"/>
<line x1="318.98" y1="717.67" x2="318.98" y2="723.27" stroke="#a31238" stroke-width="1.3"/>
<line x1="376.73" y1="717.67" x2="376.73" y2="723.27" stroke="#a31238" stroke-width="1.3"/>
<line x1="279.10" y1="731.48" x2="323.65" y2="731.48" stroke="#a31238" stroke-width="1.3"/>
<line x1="279.10" y1="728.68" x2="279.10" y2="734.28" stroke="#a31238" stroke-width="1.3"/>
<line x1="323.65" y1="728.68" x2="323.65" y2="734.28" stroke="#a31238" stroke-width="1.3"/>
<line x1="311.69" y1="753.51" x2="384.01" y2="753.51" stroke="#a31238" stroke-width="1.3"/>
<line x1="311.69" y1="750.71" x2="311.69" y2="756.31" stroke="#a31238" stroke-width="1.3"/>
<line x1="384.01" y1="750.71" x2="384.01" y2="756.31" stroke="#a31238" stroke-width="1.3"/>
<line x1="293.12" y1="764.52" x2="347.16" y2="764.52" stroke="#a31238" stroke-width="1.3"/>
<line x1="293.12" y1="761.72" x2="293.12" y2="767.32" stroke="#a31238" stroke-width="1.3"/>
<line x1="347.16" y1="761.72" x2="347.16" y2="767.32" stroke="#a31238" stroke-width="1.3"/>
<line x1="303.44" y1="786.55" x2="367.79" y2="786.55" stroke="#a31238" stroke-width="1.3"/>
<line x1="303.44" y1="783.75" x2="303.44" y2="789.35" stroke="#a31238" stroke-width="1.3"/>
<line x1="367.79" y1="783.75" x2="367.79" y2="789.35" stroke="#a31238" stroke-width="1.3"/>
<line x1="296.56" y1="797.56" x2="358.30" y2="797.56" stroke="#a31238" stroke-width="1.3"/>
<line x1="296.56" y1="794.76" x2="296.56" y2="800.36" stroke="#a31238" stroke-width="1.3"/>
<line x1="358.30" y1="794.76" x2="358.30" y2="800.36" stroke="#a31238" stroke-width="1.3"/>
<line x1="303.44" y1="819.58" x2="367.79" y2="819.58" stroke="#a31238" stroke-width="1.3"/>
<line x1="303.44" y1="816.78" x2="303.44" y2="822.38" stroke="#a31238" stroke-width="1.3"/>
<line x1="367.79" y1="816.78" x2="367.79" y2="822.38" stroke="#a31238" stroke-width="1.3"/>
<line x1="296.56" y1="829.60" x2="358.30" y2="829.60" stroke="#a31238" stroke-width="1.3"/>
<line x1="296.56" y1="826.80" x2="296.56" y2="832.40" stroke="#a31238" stroke-width="1.3"/>
<line x1="358.30" y1="826.80" x2="358.30" y2="832.40" stroke="#a31238" stroke-width="1.3"/>
<line x1="319.11" y1="852.62" x2="384.70" y2="852.62" stroke="#a31238" stroke-width="1.3"/>
<line x1="319.11" y1="849.82" x2="319.11" y2="855.42" stroke="#a31238" stroke-width="1.3"/>
<line x1="384.70" y1="849.82" x2="384.70" y2="855.42" stroke="#a31238" stroke-width="1.3"/>
<line x1="282.81" y1="863.64" x2="337.12" y2="863.64" stroke="#a31238" stroke-width="1.3"/>
<line x1="282.81" y1="860.84" x2="282.81" y2="866.44" stroke="#a31238" stroke-width="1.3"/>
<line x1="337.12" y1="860.84" x2="337.12" y2="866.44" stroke="#a31238" stroke-width="1.3"/>
<line x1="303.44" y1="885.66" x2="367.79" y2="885.66" stroke="#a31238" stroke-width="1.3"/>
<line x1="303.44" y1="882.86" x2="303.44" y2="888.46" stroke="#a31238" stroke-width="1.3"/>
<line x1="367.79" y1="882.86" x2="367.79" y2="888.46" stroke="#a31238" stroke-width="1.3"/>
<line x1="296.56" y1="896.67" x2="358.30" y2="896.67" stroke="#a31238" stroke-width="1.3"/>
<line x1="296.56" y1="893.87" x2="296.56" y2="899.47" stroke="#a31238" stroke-width="1.3"/>
<line x1="358.30" y1="893.87" x2="358.30" y2="899.47" stroke="#a31238" stroke-width="1.3"/>
<line x1="303.44" y1="918.70" x2="367.79" y2="918.70" stroke="#a31238" stroke-width="1.3"/>
<line x1="303.44" y1="915.90" x2="303.44" y2="921.50" stroke="#a31238" stroke-width="1.3"/>
<line x1="367.79" y1="915.90" x2="367.79" y2="921.50" stroke="#a31238" stroke-width="1.3"/>
<line x1="296.56" y1="929.71" x2="358.30" y2="929.71" stroke="#a31238" stroke-width="1.3"/>
<line x1="296.56" y1="926.91" x2="296.56" y2="932.51" stroke="#a31238" stroke-width="1.3"/>
<line x1="358.30" y1="926.91" x2="358.30" y2="932.51" stroke="#a31238" stroke-width="1.3"/>
<line x1="308.80" y1="951.74" x2="367.10" y2="951.74" stroke="#a31238" stroke-width="1.3"/>
<line x1="308.80" y1="948.94" x2="308.80" y2="954.54" stroke="#a31238" stroke-width="1.3"/>
<line x1="367.10" y1="948.94" x2="367.10" y2="954.54" stroke="#a31238" stroke-width="1.3"/>
<line x1="284.46" y1="962.75" x2="354.31" y2="962.75" stroke="#a31238" stroke-width="1.3"/>
<line x1="284.46" y1="959.95" x2="284.46" y2="965.55" stroke="#a31238" stroke-width="1.3"/>
<line x1="354.31" y1="959.95" x2="354.31" y2="965.55" stroke="#a31238" stroke-width="1.3"/>
<line x1="326.68" y1="349.5" x2="326.68" y2="969.5" stroke="#111" stroke-width="1.3" stroke-dasharray="4 4"/>
<circle cx="326.68" cy="357.05" r="2.8" fill="#c4102e"/>
<circle cx="340.15" cy="379.08" r="2.8" fill="#c4102e"/>
<circle cx="319.53" cy="390.09" r="2.8" fill="#c4102e"/>
<circle cx="306.60" cy="412.11" r="2.8" fill="#c4102e"/>
<circle cx="354.04" cy="423.13" r="2.8" fill="#c4102e"/>
<circle cx="334.10" cy="445.15" r="2.8" fill="#c4102e"/>
<circle cx="322.14" cy="456.16" r="2.8" fill="#c4102e"/>
<circle cx="328.19" cy="478.19" r="2.8" fill="#c4102e"/>
<circle cx="324.89" cy="489.20" r="2.8" fill="#c4102e"/>
<circle cx="316.64" cy="511.23" r="2.8" fill="#c4102e"/>
<circle cx="347.85" cy="521.24" r="2.8" fill="#c4102e"/>
<circle cx="334.10" cy="533.25" r="2.8" fill="#c4102e"/>
<circle cx="332.59" cy="555.28" r="2.8" fill="#c4102e"/>
<circle cx="334.10" cy="566.29" r="2.8" fill="#c4102e"/>
<circle cx="324.89" cy="588.32" r="2.8" fill="#c4102e"/>
<circle cx="347.85" cy="599.33" r="2.8" fill="#c4102e"/>
<circle cx="343.31" cy="621.36" r="2.8" fill="#c4102e"/>
<circle cx="306.60" cy="632.37" r="2.8" fill="#c4102e"/>
<circle cx="328.19" cy="654.39" r="2.8" fill="#c4102e"/>
<circle cx="324.89" cy="665.41" r="2.8" fill="#c4102e"/>
<circle cx="334.10" cy="686.43" r="2.8" fill="#c4102e"/>
<circle cx="324.89" cy="698.44" r="2.8" fill="#c4102e"/>
<circle cx="347.85" cy="720.47" r="2.8" fill="#c4102e"/>
<circle cx="279.10" cy="731.48" r="2.8" fill="#c4102e"/>
<circle cx="347.85" cy="753.51" r="2.8" fill="#c4102e"/>
<circle cx="313.48" cy="764.52" r="2.8" fill="#c4102e"/>
<circle cx="332.04" cy="786.55" r="2.8" fill="#c4102e"/>
<circle cx="321.45" cy="797.56" r="2.8" fill="#c4102e"/>
<circle cx="332.04" cy="819.58" r="2.8" fill="#c4102e"/>
<circle cx="321.45" cy="829.60" r="2.8" fill="#c4102e"/>
<circle cx="353.08" cy="852.62" r="2.8" fill="#c4102e"/>
<circle cx="300.28" cy="863.64" r="2.8" fill="#c4102e"/>
<circle cx="332.04" cy="885.66" r="2.8" fill="#c4102e"/>
<circle cx="321.45" cy="896.67" r="2.8" fill="#c4102e"/>
<circle cx="332.04" cy="918.70" r="2.8" fill="#c4102e"/>
<circle cx="321.45" cy="929.71" r="2.8" fill="#c4102e"/>
<circle cx="335.75" cy="951.74" r="2.8" fill="#c4102e"/>
<circle cx="309.62" cy="962.75" r="2.8" fill="#c4102e"/>
<line x1="274.2" y1="970.0" x2="420.5" y2="970.0" stroke="#111" stroke-width="1.5"/>
<line x1="279.10" y1="970" x2="279.10" y2="974.3" stroke="#111" stroke-width="1.4"/>
<text x="279.11" y="988.80" font-size="10.6" text-anchor="middle" fill="#231f20" textLength="6.01" lengthAdjust="spacingAndGlyphs">0</text>
<line x1="306.60" y1="970" x2="306.60" y2="974.3" stroke="#111" stroke-width="1.4"/>
<text x="306.61" y="988.80" font-size="10.6" text-anchor="middle" fill="#231f20" textLength="13.03" lengthAdjust="spacingAndGlyphs">20</text>
<line x1="334.10" y1="970" x2="334.10" y2="974.3" stroke="#111" stroke-width="1.4"/>
<text x="334.11" y="988.80" font-size="10.6" text-anchor="middle" fill="#231f20" textLength="13.03" lengthAdjust="spacingAndGlyphs">40</text>
<line x1="361.60" y1="970" x2="361.60" y2="974.3" stroke="#111" stroke-width="1.4"/>
<text x="361.61" y="988.80" font-size="10.6" text-anchor="middle" fill="#231f20" textLength="13.03" lengthAdjust="spacingAndGlyphs">60</text>
<line x1="389.10" y1="970" x2="389.10" y2="974.3" stroke="#111" stroke-width="1.4"/>
<text x="389.11" y="988.80" font-size="10.6" text-anchor="middle" fill="#231f20" textLength="13.03" lengthAdjust="spacingAndGlyphs">80</text>
<line x1="416.60" y1="970" x2="416.60" y2="974.3" stroke="#111" stroke-width="1.4"/>
<text x="416.59" y="988.80" font-size="10.6" text-anchor="middle" fill="#231f20" textLength="18.78" lengthAdjust="spacingAndGlyphs">100</text>
<text x="303.20" y="1009.00" font-size="14" text-anchor="start" fill="#231f20" textLength="89.30" lengthAdjust="spacingAndGlyphs" stroke="#231f20" stroke-width="0.25">Overall response rate</text>
<rect x="0.5" y="0.5" width="519" height="1021" fill="none" stroke="#222" stroke-width="1"/>
</svg>
</body></html>
